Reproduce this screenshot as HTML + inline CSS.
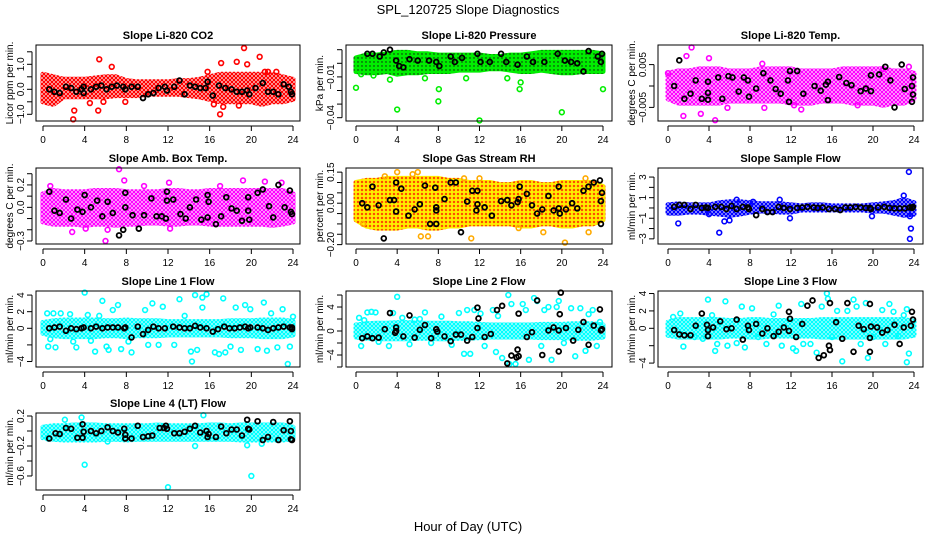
<!DOCTYPE html>
<html><head><meta charset="utf-8"><style>
html,body{margin:0;padding:0;background:#fff}
svg{display:block;font-family:"Liberation Sans",Arial,sans-serif}
</style></head><body>
<svg id="c" width="936" height="540" viewBox="0 0 936 540" xmlns="http://www.w3.org/2000/svg">
<defs>
<pattern id="pat-red" width="4" height="4" patternUnits="userSpaceOnUse"><rect width="4" height="4" fill="#fff"/><circle cx="2" cy="2" r="1.5" fill="none" stroke="#ff0000" stroke-width="1.3"/></pattern>
<pattern id="pat-green" width="4" height="4" patternUnits="userSpaceOnUse"><rect width="4" height="4" fill="#00ee00"/><circle cx="2" cy="2" r="0.7" fill="#111"/></pattern>
<pattern id="pat-mag" width="4" height="4" patternUnits="userSpaceOnUse"><rect width="4" height="4" fill="#fff"/><circle cx="2" cy="2" r="1.5" fill="none" stroke="#ff00ff" stroke-width="1.3"/></pattern>
<pattern id="pat-rh" width="4" height="4" patternUnits="userSpaceOnUse"><rect width="4" height="4" fill="#ffee00"/><path d="M1 1L3 3M3 1L1 3" stroke="#ff2200" stroke-width="0.8"/></pattern>
<pattern id="pat-blue" width="4" height="4" patternUnits="userSpaceOnUse"><rect width="4" height="4" fill="#fff"/><circle cx="2" cy="2" r="1.5" fill="none" stroke="#0000ff" stroke-width="1.4"/></pattern>
<pattern id="pat-cyan" width="4" height="4" patternUnits="userSpaceOnUse"><rect width="4" height="4" fill="#fff"/><circle cx="2" cy="2" r="1.5" fill="none" stroke="#00ffff" stroke-width="1.4"/></pattern>
</defs>
<text x="468" y="14" text-anchor="middle" font-size="13">SPL_120725  Slope Diagnostics</text>
<text x="468" y="531" text-anchor="middle" font-size="13">Hour of Day (UTC)</text>
</svg>
<script>
const xTicks=[0,4,8,12,16,20,24];
const p1Lo=[-0.5,-0.6,-0.3,-0.3,-0.3,-0.3,-0.3,-0.25,-0.25,-0.25,-0.2,-0.2,-0.2,-0.2,-0.25,-0.3,-0.4,-0.5,-0.5,-0.5,-0.5,-0.6,-0.5,-0.5,-0.4];
const p1Hi=[0.6,0.5,0.4,0.4,0.4,0.45,0.5,0.5,0.35,0.3,0.3,0.3,0.3,0.35,0.35,0.4,0.5,0.6,0.6,0.6,0.6,0.6,0.6,0.5,0.4];
const p1Out=[[5.4,1.2],[6.6,0.9],[2.9,-1.2],[3.0,-0.85],[4.5,-0.55],[5.3,-0.85],[5.8,-0.5],[7.9,-0.5],[17.1,1.05],[17.0,-1.0],[18.6,1.1],[19.3,1.65],[19.6,1.0],[20.8,1.3],[21.3,0.7],[21.6,0.7],[22.4,0.7],[15.8,0.7],[16.4,-0.6],[18.8,-0.65],[17.3,-0.7]];
const p1Blk=[[0.6,0],[1.1,-0.1],[1.6,-0.15],[2.2,0.1],[2.7,0.05],[3.2,-0.1],[3.7,0],[3.9,0.1],[3.9,-0.15],[4.6,0],[5.1,0.1],[5.6,0.15],[6.1,0],[6.6,0.1],[7.1,0.15],[7.7,0.1],[7.9,0],[8.5,0.1],[9.1,0.1],[9.6,-0.35],[10.1,-0.2],[10.6,-0.15],[11.1,0.05],[11.7,0.1],[11.9,-0.05],[12.6,0.1],[13.1,0.35],[13.6,-0.2],[14.1,0.15],[14.6,0.1],[15.1,0.05],[15.6,0.05],[15.8,0.3],[16.3,-0.25],[16.9,0.15],[17.5,0.05],[18.1,0],[18.6,-0.1],[19.1,-0.1],[19.6,-0.05],[19.8,-0.2],[20.4,0.05],[21.1,0.25],[21.6,-0.1],[22.1,-0.1],[22.6,-0.2],[23.1,0.2],[23.6,0.1],[23.8,-0.1],[23.9,-0.2]];
const p2Lo=[-0.006,-0.007,-0.007,-0.006,-0.008,-0.007,-0.007,-0.006,-0.006,-0.006,-0.005,-0.005,-0.005,-0.004,-0.004,-0.005,-0.006,-0.006,-0.005,-0.006,-0.007,-0.007,-0.006,-0.006,-0.006];
const p2Hi=[0.004,0.006,0.006,0.007,0.008,0.008,0.007,0.007,0.006,0.006,0.006,0.006,0.006,0.005,0.005,0.006,0.006,0.007,0.008,0.008,0.008,0.008,0.008,0.008,0.007];
const p2Out=[[0,-0.018],[4,-0.034],[8,-0.028],[8.05,-0.019],[12,-0.042],[15.9,-0.019],[16,-0.014],[20,-0.036],[24,-0.019],[6.7,-0.011],[10.7,-0.011],[14.7,-0.011],[3.3,-0.012],[0.5,-0.008],[1.7,-0.009]];
const p2Blk=[[1.1,0.007],[1.6,0.007],[2.3,0.005],[2.7,0.008],[3.3,0.01],[3.9,0.002],[4.2,-0.002],[4.6,-0.003],[5.2,0.003],[6.0,0.002],[7.1,0.002],[7.8,0.001],[8.1,-0.002],[9.2,0.005],[9.6,0.001],[10.3,0.004],[11.8,0.007],[12.1,0.001],[13.0,0.001],[14.1,0.007],[14.6,0.001],[15.7,-0.001],[16.6,0.005],[17.2,0.001],[18.3,0.001],[19.6,0.007],[20.3,0.002],[20.9,0.001],[21.5,0.0],[22.1,-0.006],[22.6,0.009],[23.5,0.005],[23.9,0.007],[23.8,0.001]];
const p3Lo=[-0.003,-0.004,-0.004,-0.004,-0.004,-0.004,-0.0035,-0.0035,-0.0035,-0.0035,-0.0035,-0.0035,-0.004,-0.004,-0.004,-0.0035,-0.0035,-0.0035,-0.004,-0.004,-0.004,-0.0045,-0.004,-0.004,-0.003];
const p3Hi=[0.003,0.0035,0.0035,0.004,0.004,0.004,0.0035,0.0035,0.0035,0.004,0.004,0.004,0.004,0.0035,0.0035,0.0035,0.0035,0.004,0.004,0.004,0.004,0.004,0.0035,0.0035,0.003];
const p3Out=[[2.3,0.009],[1.8,0.007],[4.0,0.0065],[1.5,-0.007],[4.6,-0.008],[3.2,-0.0065],[5.8,-0.0051],[9.4,-0.0051],[13.0,-0.0055],[0,0.003],[9.2,0.0052],[12.3,-0.0045],[18.5,-0.0045],[23.5,0.0045],[21.0,0.004]];
const p3Blk=[[1.1,0.006],[0.6,0.0],[1.6,-0.003],[2.2,-0.0018],[2.7,0.0013],[3.3,-0.003],[3.9,-0.0016],[3.9,-0.0032],[3.9,0.001],[4.9,0.002],[5.3,-0.003],[5.9,0.0023],[6.3,0.002],[6.9,-0.0013],[7.4,0.002],[7.8,0.0013],[7.9,-0.0025],[8.6,-0.0006],[9.3,0.003],[10,0.0013],[10.5,-0.0007],[11.0,-0.0018],[11.7,0.0013],[11.9,0.0035],[11.8,-0.0037],[12.6,0.0035],[13.2,-0.0018],[14.3,0],[14.9,-0.0011],[15.4,0.0003],[15.6,0.001],[15.6,-0.0033],[16.7,0.0021],[17.4,0.0007],[17.9,0.0002],[18.8,-0.0012],[19.3,-0.0006],[19.8,0.0025],[19.8,-0.0012],[20.6,0.0027],[21.2,0.0045],[21.7,0.0013],[22.1,-0.005],[22.8,0.005],[23.1,-0.0007],[23.8,0.0],[23.9,0.002],[23.8,-0.0037],[23.9,-0.002]];
const p4Lo=[-0.13,-0.15,-0.15,-0.15,-0.16,-0.15,-0.15,-0.16,-0.15,-0.15,-0.14,-0.14,-0.15,-0.15,-0.14,-0.14,-0.15,-0.15,-0.15,-0.15,-0.15,-0.15,-0.16,-0.15,-0.13];
const p4Hi=[0.12,0.15,0.14,0.14,0.14,0.15,0.15,0.15,0.14,0.14,0.14,0.14,0.15,0.15,0.14,0.14,0.15,0.15,0.15,0.15,0.15,0.15,0.15,0.15,0.12];
const p4Out=[[7.3,0.34],[6.0,-0.3],[7.8,0.24],[12.1,0.22],[19.2,0.24],[21.3,0.23],[22.9,0.22],[2.8,-0.22],[4.1,-0.19],[6.2,-0.2],[12.2,-0.19],[17.0,0.19],[0.7,0.19],[9.7,0.19]];
const p4Blk=[[0.6,0.14],[1.1,-0.03],[1.6,-0.05],[2.2,0.07],[2.7,-0.1],[3.3,-0.02],[3.8,-0.04],[4.0,0.11],[4.6,0.0],[5.2,0.06],[5.7,-0.08],[6.2,0.05],[6.7,-0.05],[7.3,-0.25],[7.7,-0.2],[7.9,0.13],[7.9,0.0],[8.6,-0.07],[9.2,-0.19],[9.7,-0.07],[10.4,0.08],[10.9,-0.08],[11.4,-0.08],[11.8,-0.1],[11.9,0.14],[11.9,0.06],[12.5,0.07],[13.2,-0.06],[13.7,-0.1],[14.1,0.0],[14.7,0.07],[15.2,-0.11],[15.8,0.11],[15.8,-0.09],[15.9,0.05],[16.6,-0.15],[17.1,-0.08],[17.6,0.09],[18.1,-0.01],[18.6,-0.03],[19.1,-0.12],[19.7,-0.03],[19.7,0.09],[19.8,-0.11],[20.6,0.13],[21.1,0.16],[21.7,0.01],[22.1,-0.09],[22.6,0.2],[23.2,0.0],[23.7,0.15],[23.8,-0.04],[23.9,-0.06]];
const p5Lo=[-0.08,-0.11,-0.12,-0.12,-0.12,-0.11,-0.11,-0.12,-0.12,-0.11,-0.11,-0.1,-0.1,-0.1,-0.1,-0.1,-0.11,-0.11,-0.1,-0.1,-0.11,-0.11,-0.1,-0.1,-0.08];
const p5Hi=[0.1,0.11,0.11,0.12,0.12,0.12,0.12,0.12,0.12,0.11,0.11,0.1,0.1,0.1,0.09,0.09,0.1,0.1,0.09,0.09,0.1,0.1,0.1,0.1,0.08];
const p5Out=[[4.0,0.15],[6.0,0.15],[2.8,0.13],[5.5,0.14],[0.7,-0.1],[11.2,-0.17],[6.3,-0.16],[7.0,-0.16],[15.8,-0.12],[18.2,-0.14],[20.3,-0.19],[22.6,-0.14],[22.3,0.12],[10.5,0.12],[12.0,0.12]];
const p5Blk=[[0.6,0],[1.1,-0.02],[1.6,0.08],[2.2,-0.01],[2.7,-0.17],[3.3,0.015],[3.7,0.015],[3.9,0.1],[3.9,-0.04],[4.4,0.07],[5.1,-0.06],[5.7,-0.03],[6.2,-0.005],[6.7,0.085],[7.2,-0.1],[7.7,0.075],[7.8,-0.02],[7.8,-0.035],[7.8,-0.1],[8.6,0.02],[9.2,0.1],[9.7,0.1],[10.2,-0.14],[10.8,0.008],[11.3,0.06],[11.8,0.06],[11.8,-0.005],[11.7,-0.035],[12.5,-0.02],[13.2,-0.06],[14.1,0.01],[14.7,0.015],[15.1,-0.01],[15.7,0.005],[15.8,0.02],[15.9,0.08],[16.6,0.045],[17.1,-0.01],[17.6,-0.05],[18.1,-0.03],[18.7,0.035],[19.2,-0.035],[19.7,-0.025],[19.7,0.08],[19.8,-0.05],[20.4,-0.03],[21.0,0.0],[21.5,-0.025],[22.1,0.06],[22.6,0.08],[23.1,0.1],[23.7,0.11],[23.8,0.01],[23.8,-0.1],[23.9,0.05]];
const p6Lo=[-0.5,-0.5,-0.4,-0.4,-0.5,-0.6,-0.7,-0.6,-0.4,-0.3,-0.3,-0.4,-0.4,-0.2,-0.2,-0.2,-0.2,-0.2,-0.2,-0.2,-0.3,-0.3,-0.5,-0.7,-0.6];
const p6Hi=[0.3,0.4,0.3,0.3,0.3,0.5,0.6,0.6,0.5,0.4,0.4,0.4,0.3,0.2,0.3,0.3,0.2,0.2,0.2,0.2,0.3,0.4,0.5,0.8,0.5];
const p6Out=[[1.0,-1.5],[5.0,-2.4],[5.5,-1.3],[6.0,-1.2],[4.0,-0.6],[11.9,-1.0],[19.9,-0.8],[23.5,3.5],[23.6,-3.0],[23.7,-2.0],[23.6,-0.8],[23.0,1.2],[10.9,0.8],[6.7,0.8],[8.3,0.6]];
const p6Blk=[[0.6,0.1],[1.1,0.3],[1.6,0.3],[2.2,-0.1],[2.7,0.3],[3.3,0],[3.7,0.05],[3.9,0],[4.6,0.1],[5.2,0.1],[5.7,-0.1],[6.2,0.2],[6.7,-0.1],[7.3,0.1],[7.8,0.05],[7.9,-0.1],[8.6,-0.7],[9.2,-0.1],[9.7,-0.4],[10.2,-0.4],[10.8,0.1],[11.3,0],[11.9,-0.1],[12.6,0],[13.1,0.05],[13.6,0.1],[14.2,0.05],[14.6,0],[15.1,0.05],[15.7,-0.1],[16.3,-0.1],[16.8,-0.2],[17.3,0.05],[17.8,0.05],[18.3,0.1],[18.8,0.05],[19.3,0],[19.7,0],[19.8,-0.1],[20.5,0.05],[21.1,0.1],[21.6,0],[22.1,-0.05],[22.6,-0.05],[23.1,-0.05],[23.6,0.05],[23.8,0],[23.9,0.1]];
const p7Lo=[-0.6,-0.9,-1.0,-1.0,-1.0,-1.0,-0.9,-0.9,-1.0,-0.9,-0.9,-0.9,-0.8,-0.8,-0.8,-0.8,-0.8,-0.8,-0.9,-0.9,-0.9,-1.0,-1.0,-1.0,-0.8];
const p7Hi=[0.7,0.9,1.0,1.0,1.0,1.0,0.9,0.9,1.0,0.9,0.9,0.9,0.8,0.8,0.8,0.8,0.8,0.8,0.9,0.9,0.9,1.0,1.0,1.0,0.8];
const p7Out=[[0.4,1.8],[0.5,-2.2],[0.7,-1.3],[1.0,1.8],[1.2,-2.3],[1.7,1.8],[2.6,1.7],[2.9,-1.6],[3.2,-2.3],[4.0,4.3],[4.3,1.6],[4.6,-1.5],[5.0,-2.8],[5.4,1.5],[5.7,3.3],[6.1,-2.2],[6.3,-2.6],[6.7,2.2],[7.2,2.8],[7.5,-2.5],[8.2,-1.6],[8.5,-2.9],[9.8,2.2],[10.1,-2.0],[10.5,3.0],[11.1,-2.0],[11.5,2.6],[12.6,-2.0],[13.1,3.5],[13.6,1.5],[14.2,-2.8],[14.3,-4.0],[14.6,4.0],[14.8,-2.6],[15.3,3.7],[15.7,4.1],[15.3,2.5],[16.5,-2.9],[16.9,-3.1],[17.3,3.6],[17.5,-2.9],[18.0,-2.2],[18.5,2.5],[19.0,-2.6],[19.4,2.8],[19.9,2.3],[20.6,-2.5],[21.2,3.1],[21.5,-2.7],[21.9,1.8],[22.5,-2.3],[23.0,2.3],[23.5,-4.3],[23.7,-2.2],[24,1.4]];
const p7Blk=[[0.6,0],[1.1,0.1],[1.6,0.2],[2.2,-0.3],[2.7,0],[3.2,-0.1],[3.7,0],[3.9,0.1],[4.6,0],[5.1,0.2],[5.7,0],[6.2,0.1],[6.7,0.1],[7.2,0.1],[7.8,0],[7.9,0.1],[8.5,-1.1],[9.1,0.2],[9.6,-0.7],[10.1,-0.2],[10.6,0.2],[11.1,0],[11.7,0],[12.5,0.2],[13.1,0.1],[13.6,0],[14.1,0],[14.6,0.3],[15.1,0.1],[15.7,0],[16.3,-0.4],[16.8,-0.1],[17.4,0.2],[17.9,0],[18.4,0],[18.9,0.1],[19.4,0.2],[19.7,0],[19.9,0.1],[20.6,0.1],[21.1,0],[21.6,-0.2],[22.1,0],[22.6,0.1],[23.1,0.2],[23.7,0.1],[23.9,-0.1],[23.9,0.1]];
const p8Lo=[-1.0,-1.2,-1.3,-1.3,-1.3,-1.3,-1.2,-1.2,-1.3,-1.3,-1.2,-1.2,-1.1,-1.0,-1.0,-1.0,-1.0,-1.0,-1.1,-1.1,-1.1,-1.2,-1.2,-1.2,-1.0];
const p8Hi=[1.0,1.2,1.3,1.3,1.4,1.4,1.3,1.3,1.3,1.3,1.2,1.2,1.1,1.0,1.0,1.0,1.0,1.0,1.1,1.1,1.1,1.2,1.2,1.2,1.0];
const p8Out=[[0.3,2.2],[0.5,-2.5],[0.8,1.8],[1.1,3.1],[1.5,3.2],[1.9,3.1],[2.2,-1.8],[3.2,-2.5],[3.6,3.0],[4.0,5.7],[4.5,2.2],[5.2,-2.2],[5.7,1.9],[6.2,2.0],[6.7,3.1],[7.3,-2.0],[8.3,2.4],[9.3,-2.3],[10.0,3.0],[10.5,-3.8],[10.8,3.5],[11.1,-3.8],[11.5,3.5],[12.1,2.9],[12.5,-2.5],[13.3,3.5],[13.6,-3.5],[13.8,2.5],[14.2,-4.5],[14.8,6.0],[14.9,-5.5],[15.1,4.5],[15.5,-5.5],[16.2,4.5],[16.5,3.5],[16.8,-4.8],[17.3,5.5],[17.6,5.0],[18.0,-2.5],[18.3,3.5],[18.7,4.0],[19.0,-4.8],[19.5,4.0],[19.7,5.0],[20.2,-2.0],[20.9,3.8],[21.3,-4.2],[21.8,3.8],[22.3,-3.3],[22.6,2.8],[23.0,3.5],[23.4,-2.5],[23.7,1.5]];
const p8Blk=[[0.6,-1.2],[1.1,-0.9],[1.6,-1.2],[2.2,-1.1],[2.8,0.3],[3.3,3.0],[3.8,-0.3],[3.9,0.6],[3.9,0],[4.6,-0.9],[5.2,2.6],[5.7,-1.1],[6.2,0.2],[6.7,1.0],[7.3,-1.2],[7.8,0.3],[7.9,-0.1],[8.6,-0.9],[9.2,-1.7],[9.7,-0.6],[10.2,-0.6],[10.8,-1.6],[11.3,-1.0],[11.8,0.5],[11.8,3.9],[11.9,2.1],[12.5,-1.0],[13.1,-0.5],[13.7,3.5],[14.2,4.2],[14.7,-5.4],[15.1,-4.1],[15.6,-4.4],[15.7,-3.1],[15.8,-4.2],[15.8,2.9],[16.6,-1.0],[17.1,-0.2],[17.6,5.1],[18.1,-4.0],[18.7,0.1],[19.2,0.6],[19.7,0.1],[19.7,-3.4],[19.9,6.4],[19.8,2.8],[20.4,0.5],[21.1,-1.6],[21.6,0.2],[22.1,1.5],[22.6,-2.3],[23.1,0.9],[23.7,3.6],[23.8,0.1],[23.9,0.3]];
const p9Lo=[-0.8,-1.0,-1.0,-1.0,-1.0,-1.0,-0.9,-0.9,-1.0,-1.0,-0.9,-0.9,-0.9,-0.9,-0.9,-1.0,-1.0,-1.0,-1.0,-1.0,-1.0,-1.0,-1.0,-1.0,-0.8];
const p9Hi=[0.7,1.0,1.0,1.0,1.0,1.0,0.9,0.9,1.0,1.0,0.9,0.9,0.9,0.9,0.9,1.0,1.0,1.0,1.0,1.0,1.0,1.0,1.0,1.0,0.8];
const p9Out=[[0.5,1.3],[1.2,1.7],[1.5,-2.1],[2.6,-1.0],[3.4,-1.2],[3.9,3.3],[4.3,1.5],[4.6,-2.6],[4.8,-1.8],[5.6,3.1],[5.8,-2.0],[6.7,-1.7],[7.2,2.5],[7.5,-2.2],[8.2,2.3],[8.8,-1.0],[9.6,-1.8],[10.3,1.6],[10.8,2.6],[11.1,-2.0],[12.2,-2.3],[12.5,-2.6],[13.0,2.8],[13.2,-1.8],[13.9,-1.8],[14.5,-2.8],[15.0,2.5],[15.5,4.0],[15.6,3.4],[16.0,-1.0],[16.5,2.0],[17.0,-3.8],[17.5,2.0],[18.1,3.3],[18.4,2.5],[18.8,-1.8],[19.3,2.9],[19.5,-3.4],[20.0,-1.0],[20.9,2.1],[21.2,-1.8],[21.6,2.8],[22.0,1.9],[22.5,-0.9],[23.0,1.5],[23.3,2.2],[23.5,-2.9],[23.3,-3.9]];
const p9Blk=[[0.6,-0.2],[1.1,-0.7],[1.6,-0.8],[2.2,-0.8],[2.7,0.3],[3.3,1.7],[3.8,0.4],[3.9,-0.2],[3.9,-0.9],[4.4,0.1],[5.1,0.8],[5.7,-0.1],[6.2,0],[6.7,1.0],[7.3,-1.3],[7.8,0.3],[7.9,-0.2],[8.6,0.5],[9.2,-0.6],[9.7,0],[10.3,-0.9],[10.8,-0.4],[11.3,0.1],[11.8,-0.3],[11.8,1.9],[11.9,1.1],[12.5,-1.0],[13.1,0.5],[13.6,2.6],[14.1,3.2],[14.7,-3.4],[15.2,-3.1],[15.7,-2.0],[15.8,-2.5],[15.8,2.9],[16.4,0.7],[17.0,-1.2],[17.5,2.9],[18.1,-2.7],[18.6,0.3],[19.1,-0.1],[19.7,2.8],[19.8,0.2],[19.7,-1.1],[19.7,-2.7],[20.4,0.1],[20.9,-0.5],[21.4,-0.2],[22.1,0.4],[22.6,-1.8],[23.0,0.1],[23.7,0.3],[23.8,1.9],[23.9,1.0]];
const p10Lo=[-0.09,-0.11,-0.12,-0.12,-0.12,-0.12,-0.11,-0.11,-0.12,-0.11,-0.11,-0.11,-0.11,-0.11,-0.11,-0.11,-0.11,-0.11,-0.11,-0.12,-0.12,-0.12,-0.12,-0.12,-0.1];
const p10Hi=[0.05,0.07,0.07,0.08,0.08,0.08,0.07,0.07,0.07,0.07,0.07,0.08,0.07,0.07,0.07,0.07,0.08,0.08,0.07,0.08,0.08,0.08,0.08,0.08,0.05];
const p10Out=[[0.5,-0.1],[2.1,0.15],[3.7,0.18],[4.0,-0.45],[12.0,-0.75],[15.4,0.21],[14.6,-0.2],[19.6,-0.19],[20.0,-0.6],[21.0,-0.17],[6.2,-0.14]];
const p10Blk=[[0.6,-0.1],[1.2,-0.03],[1.6,-0.04],[2.2,0.04],[2.7,0.03],[3.3,-0.09],[3.8,0.09],[3.8,-0.09],[3.9,-0.01],[4.6,0],[5.1,-0.03],[5.6,0],[6.2,0.05],[6.7,0],[7.2,-0.02],[7.8,0.03],[7.9,-0.05],[7.9,-0.1],[8.5,-0.1],[9.1,0.07],[9.6,-0.08],[10.1,-0.07],[10.5,-0.06],[11.2,0.04],[11.6,0.04],[11.8,0.07],[11.9,0.03],[12.6,-0.03],[13.1,-0.03],[13.6,-0.01],[14.1,0.03],[14.6,0.07],[15.1,-0.02],[15.7,0],[15.8,-0.08],[15.9,-0.04],[16.6,-0.08],[17.1,0.06],[17.6,-0.03],[18.1,0.02],[18.6,0.02],[19.1,-0.06],[19.7,0.03],[19.6,0.15],[19.8,0.02],[20.6,0.13],[21.1,-0.12],[21.6,-0.08],[22.1,0.12],[22.6,-0.12],[23.1,0.01],[23.7,0.13],[23.8,-0.11],[23.9,-0.12],[23.8,0]];

const cols=[{l:36,r:300,x0:43,x24:293},{l:346,r:612,x0:356,x24:603},{l:658,r:923,x0:668,x24:914}];
const rows=[{t:45,b:121},{t:168,b:244},{t:291,b:367},{t:413,b:490}];
const panels=[
 {title:"Slope Li-820 CO2",ylab:"Licor ppm per min.",c:0,r:0,dom:[-1.268,1.772],ticks:[-1,-0.5,0,0.5,1,1.5],labels:{"-1":"\u22121.0","0":"0.0","1":"1.0"},col:"#ff0000",band:"url(#pat-red)",lo:p1Lo,hi:p1Hi,out:p1Out,blk:p1Blk},
 {title:"Slope Li-820 Pressure",ylab:"kPa per min.",c:1,r:0,dom:[-0.04243,0.01346],ticks:[-0.04,-0.03,-0.02,-0.01,0,0.01],labels:{"-0.01":"\u22120.01","-0.04":"\u22120.04"},col:"#00ee00",band:"url(#pat-green)",lo:p2Lo,hi:p2Hi,out:p2Out,blk:p2Blk},
 {title:"Slope Li-820 Temp.",ylab:"degrees C per min.",c:2,r:0,dom:[-0.00818,0.00958],ticks:[-0.005,0,0.005],labels:{"-0.005":"\u22120.005","0.005":"0.005"},col:"#ff00ff",band:"url(#pat-mag)",lo:p3Lo,hi:p3Hi,out:p3Out,blk:p3Blk},
 {title:"Slope Amb. Box Temp.",ylab:"degrees C per min.",c:0,r:1,dom:[-0.327,0.351],ticks:[-0.3,-0.2,-0.1,0,0.1,0.2,0.3],labels:{"-0.3":"\u22120.3","0":"0.0","0.2":"0.2"},col:"#ff00ff",band:"url(#pat-mag)",lo:p4Lo,hi:p4Hi,out:p4Out,blk:p4Blk},
 {title:"Slope Gas Stream RH",ylab:"percent per min.",c:1,r:1,dom:[-0.197,0.170],ticks:[-0.2,-0.15,-0.1,-0.05,0,0.05,0.1,0.15],labels:{"-0.2":"\u22120.20","0":"0.00","0.15":"0.15"},col:"#ffaa00",band:"url(#pat-rh)",lo:p5Lo,hi:p5Hi,out:p5Out,blk:p5Blk},
 {title:"Slope Sample Flow",ylab:"ml/min per min.",c:2,r:1,dom:[-3.5,3.88],ticks:[-3,-2,-1,0,1,2,3],labels:{"-3":"\u22123","-1":"\u22121","1":"1","3":"3"},col:"#0000ff",band:"url(#pat-blue)",lo:p6Lo,hi:p6Hi,out:p6Out,blk:p6Blk},
 {title:"Slope Line 1 Flow",ylab:"ml/min per min.",c:0,r:2,dom:[-4.66,4.49],ticks:[-4,-2,0,2,4],labels:{"-4":"\u22124","0":"0","2":"2","4":"4"},col:"#00ffff",band:"url(#pat-cyan)",lo:p7Lo,hi:p7Hi,out:p7Out,blk:p7Blk},
 {title:"Slope Line 2 Flow",ylab:"ml/min per min.",c:1,r:2,dom:[-6.0,6.67],ticks:[-6,-4,-2,0,2,4,6],labels:{"-4":"\u22124","0":"0","4":"4"},col:"#00ffff",band:"url(#pat-cyan)",lo:p8Lo,hi:p8Hi,out:p8Out,blk:p8Blk},
 {title:"Slope Line 3 Flow",ylab:"ml/min per min.",c:2,r:2,dom:[-4.45,4.29],ticks:[-4,-2,0,2,4],labels:{"-4":"\u22124","0":"0","2":"2","4":"4"},col:"#00ffff",band:"url(#pat-cyan)",lo:p9Lo,hi:p9Hi,out:p9Out,blk:p9Blk},
 {title:"Slope Line 4 (LT) Flow",ylab:"ml/min per min.",c:0,r:3,dom:[-0.787,0.24],ticks:[-0.6,-0.4,-0.2,0,0.2],labels:{"-0.6":"\u22120.6","-0.2":"\u22120.2","0.2":"0.2"},col:"#00ffff",band:"url(#pat-cyan)",lo:p10Lo,hi:p10Hi,out:p10Out,blk:p10Blk}
];
const NS="http://www.w3.org/2000/svg";
const svg=document.getElementById('c');
function mk(tag,attrs,parent){const e=document.createElementNS(NS,tag);for(const k in attrs)e.setAttribute(k,attrs[k]);(parent||svg).appendChild(e);return e;}
function slug(s){return s.toLowerCase().replace(/[^a-z0-9]+/g,'-').replace(/^-|-$/g,'');}
panels.forEach(p=>{
  const C=cols[p.c],R=rows[p.r];
  const name=slug(p.title);
  const g=mk('g',{});
  
  
  const xs=h=>C.x0+h*(C.x24-C.x0)/24;
  const ys=v=>R.t+(p.dom[1]-v)/(p.dom[1]-p.dom[0])*(R.b-R.t);
  let d='';
  p.hi.forEach((v,i)=>{d+=(i?'L':'M')+xs(i).toFixed(1)+','+ys(v).toFixed(1);});
  for(let i=p.lo.length-1;i>=0;i--)d+='L'+xs(i).toFixed(1)+','+ys(p.lo[i]).toFixed(1);
  d+='Z';
  const band=mk('path',{d:d,fill:p.band,stroke:p.band,'stroke-width':5,'stroke-linejoin':'round'},g);
  
  
  p.out.forEach(pt=>{
    const c=mk('circle',{cx:xs(pt[0]),cy:ys(pt[1]),r:2.4,fill:'none',stroke:p.col,'stroke-width':1.6},g);
    
    
  });
  p.blk.forEach(pt=>{
    const c=mk('circle',{cx:xs(pt[0]),cy:ys(pt[1]),r:2.4,fill:'none',stroke:'#000','stroke-width':1.8},g);
    
    
  });
  const box=mk('rect',{x:C.l,y:R.t,width:C.r-C.l,height:R.b-R.t,fill:'none',stroke:'#000','stroke-width':1},g);
  
  
  const tt=mk('text',{x:(C.l+C.r)/2,y:R.t-6,'text-anchor':'middle','font-size':11,'font-weight':'bold'},g);
  tt.textContent=p.title;
  
  
  const ax=R.b+5;
  const xl=mk('line',{x1:xs(0),x2:xs(24),y1:ax,y2:ax,stroke:'#000'},g);
  
  
  xTicks.forEach(t=>{
    mk('line',{x1:xs(t),x2:xs(t),y1:ax,y2:ax+5,stroke:'#000'},g);
    const tx=mk('text',{x:xs(t),y:ax+17,'text-anchor':'middle','font-size':10},g);
    tx.textContent=t;
    
    
  });
  const ay=C.l-4;
  const tv=p.ticks;
  const yl=mk('line',{x1:ay,x2:ay,y1:ys(tv[0]),y2:ys(tv[tv.length-1]),stroke:'#000'},g);
  
  
  tv.forEach(t=>{
    const y=ys(t);
    mk('line',{x1:ay-5,x2:ay,y1:y,y2:y,stroke:'#000'},g);
    const lab=p.labels[String(t)];
    if(lab){
      const tx=mk('text',{x:0,y:0,'text-anchor':'middle','font-size':10,transform:`translate(${ay-8},${y}) rotate(-90)`},g);
      tx.textContent=lab;
      
      
    }
  });
  const yt=mk('text',{x:0,y:0,'text-anchor':'middle','font-size':10,transform:`translate(${C.l-23},${(R.t+R.b)/2}) rotate(-90)`},g);
  yt.textContent=p.ylab;
  
  
});
</script>
</body></html>
